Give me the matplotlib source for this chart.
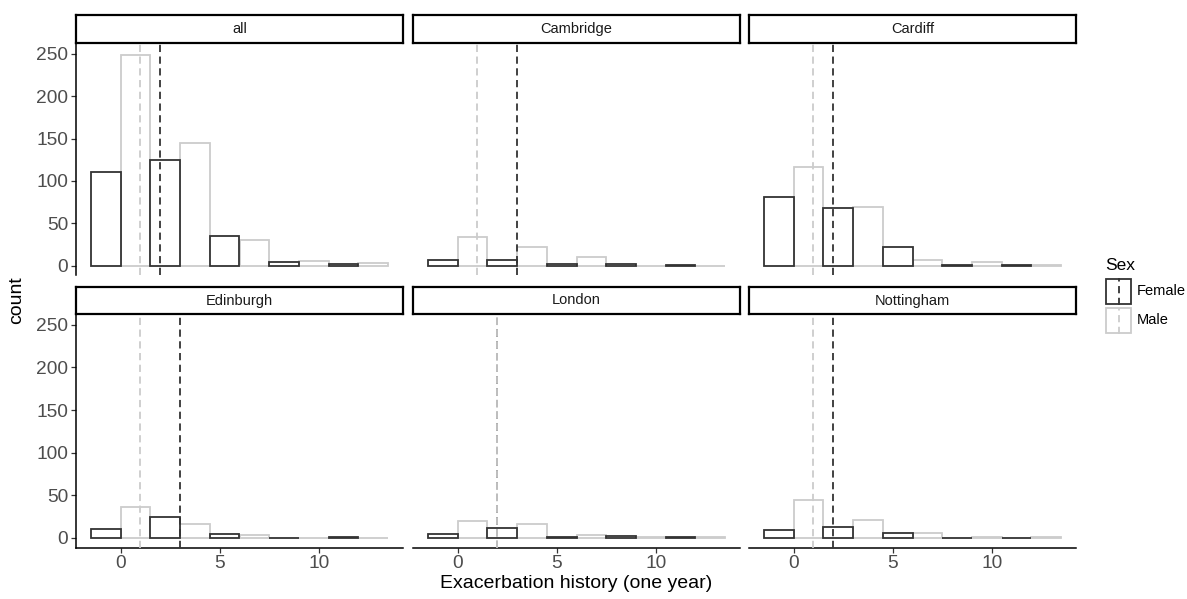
import matplotlib
matplotlib.use("Agg")
import matplotlib.pyplot as plt
from matplotlib.patches import Rectangle
from matplotlib.lines import Line2D

plt.rcParams['font.family'] = ['Liberation Sans', 'DejaVu Sans']

# ---------------- data ----------------
sites = ["all", "Cambridge", "Cardiff", "Edinburgh", "London", "Nottingham"]
bin_centers = [0, 3, 6, 9, 12]
bin_width = 3.0
female_counts = [
    [111, 125, 35, 4, 2],   # all
    [6, 7, 2, 2, 1],        # Cambridge
    [81, 68, 22, 1, 1],     # Cardiff
    [11, 25, 5, 0, 1],      # Edinburgh
    [5, 12, 1, 2, 1],       # London
    [9, 13, 6, 0, 0],       # Nottingham
]
male_counts = [
    [249, 145, 30, 5, 3],
    [34, 22, 10, 0, 0],
    [116, 69, 7, 4, 1],
    [36, 17, 4, 0, 0],
    [20, 16, 3, 1, 1],
    [44, 21, 6, 1, 1],
]
female_center = [2, 3, 2, 3, 2, 2]
male_center = [1, 1, 1, 1, 2, 1]
x_ticks = [0, 5, 10]
y_ticks = [0, 50, 100, 150, 200, 250]
sex_labels = ["Female", "Male"]

# ---------------- style ----------------
W, H = 1187, 599
DARK = "#333333"
LIGHT = "#CCCCCC"
TICKCOL = "#4D4D4D"

fig = plt.figure(figsize=(W / 100, H / 100), dpi=100)


def rect(l, t, r, b):
    return [l / W, 1 - b / H, (r - l) / W, (b - t) / H]


col_l = [76, 413, 749]
pw = 327
rows = [(43, 275, 15), (314, 547.5, 287)]

xmin, xmax = -1.5, 13.5
xpad = 0.05 * (xmax - xmin)
ymax_data = max(max(m) for m in male_counts + female_counts)
ypad = 0.05 * ymax_data

for i, site in enumerate(sites):
    r, c = divmod(i, 3)
    t, b, st = rows[r]
    l = col_l[c]
    ax = fig.add_axes(rect(l, t, l + pw, b))
    half = bin_width / 2
    # male bars (right half of each bin)
    ax.bar([bc + half / 2 for bc in bin_centers], male_counts[i], width=half,
           facecolor="white", edgecolor=LIGHT, linewidth=1.3, zorder=2)
    # female bars (left half)
    ax.bar([bc - half / 2 for bc in bin_centers], female_counts[i], width=half,
           facecolor="white", edgecolor=DARK, linewidth=1.3, zorder=3)
    ax.axvline(female_center[i], color=DARK, lw=1.3, ls=(0, (4, 2.5)), zorder=4)
    ax.axvline(male_center[i], color=LIGHT, lw=1.3, ls=(0, (4, 2.5)), zorder=5)
    ax.set_xlim(xmin - xpad, xmax + xpad)
    ax.set_ylim(-ypad + 1.3, ymax_data + ypad + 1.3)
    for s in ax.spines.values():
        s.set_visible(False)
    ax.set_xticks(x_ticks)
    ax.set_yticks(y_ticks)
    ax.tick_params(colors=DARK, labelcolor=TICKCOL, labelsize=13.8,
                   length=3.5, width=0.9, pad=2)
    if c == 0:
        ax.spines['left'].set_visible(True)
        ax.spines['left'].set_linewidth(1.1)
        ax.spines['left'].set_color('black')
    else:
        ax.tick_params(axis='y', left=False, labelleft=False)
    if r == 1:
        ax.spines['bottom'].set_visible(True)
        ax.spines['bottom'].set_linewidth(1.1)
        ax.spines['bottom'].set_color('black')
    else:
        ax.tick_params(axis='x', bottom=False, labelbottom=False)
    ax.patch.set_alpha(0)

    # strip
    sax = fig.add_axes(rect(l, st, l + pw, t))
    sax.set_xticks([])
    sax.set_yticks([])
    for s in sax.spines.values():
        s.set_linewidth(1.6)
        s.set_color('black')
    sax.text(0.5, 0.5, site, ha='center', va='center', fontsize=10.5,
             color='#1A1A1A', transform=sax.transAxes)

fig.text(17 / W, 1 - 300 / H, "count", rotation=90, ha='center', va='center',
         fontsize=14, color='black')
fig.text(576.5 / W, 1 - 583 / H, "Exacerbation history (one year)",
         ha='center', va='center', fontsize=14, color='black')

# ---------------- legend ----------------
fig.text(1105 / W, 1 - 270 / H, "Sex", ha='left', va='baseline', fontsize=12.5,
         color='black')
key_tops = [278, 307.5]
key_cols = [DARK, LIGHT]
for k, (lab, kt, kc) in enumerate(zip(sex_labels, key_tops, key_cols)):
    kax = fig.add_axes(rect(1105, kt, 1132, kt + 26.5))
    kax.set_xlim(0, 1)
    kax.set_ylim(0, 1)
    kax.axis('off')
    kax.add_patch(Rectangle((0.02, 0.02), 0.96, 0.96, facecolor='white',
                            edgecolor=kc, lw=1.3, transform=kax.transAxes,
                            clip_on=False))
    kax.add_line(Line2D([0.5, 0.5], [0.0, 1.0], color=kc, lw=1.3,
                        ls=(0, (4, 2.5)), transform=kax.transAxes))
    fig.text(1137 / W, 1 - (kt + 13) / H, lab, ha='left', va='center',
             fontsize=10.5, color='black')

fig.savefig("out.png", dpi=100)
